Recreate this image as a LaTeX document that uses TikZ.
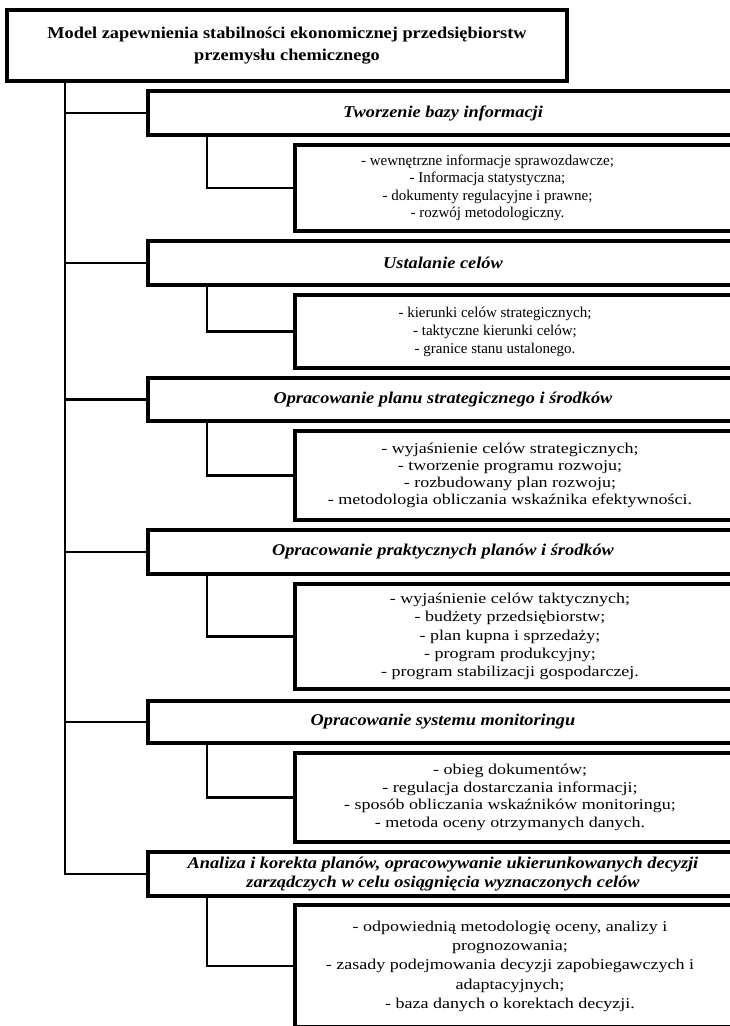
\documentclass[tikz,border=0pt]{standalone}
\usepackage{fontspec}
\setmainfont{Liberation Serif}
\newfontfamily\widefont[FakeStretch=1.2]{Liberation Serif}
\newfontfamily\headfont[FakeStretch=1.11]{Liberation Serif}
\usetikzlibrary{positioning}

% centred lines, pushed left by half of #1
\newcommand{\itemlist}[2][0pt]{\begin{tabular}{@{}c@{}}#2\end{tabular}\hspace*{#1}}

\tikzset{
  box/.style={draw, line width=3.1pt, inner sep=0pt, outer sep=0pt},
  titlebox/.style={box, align=center, font=\headfont\fontsize{16.5}{22}\selectfont\bfseries, minimum width=560pt, minimum height=71pt},
  headbox/.style={box, align=center, font=\headfont\fontsize{16.5}{19.5}\selectfont\bfseries\itshape, minimum width=590pt, minimum height=44pt},
  listbox/.style={box, font=\fontsize{15}{17.5}\selectfont, minimum width=445pt},
  widebox/.style={listbox, font=\widefont\fontsize{15}{#1}\selectfont},
  link/.style={line width=2.9pt}
}

\begin{document}
\begin{tikzpicture}[x=1pt,y=-1pt]
\useasboundingbox (0,0) rectangle (730,1026);
\clip (0,0) rectangle (730,1026);

\node[titlebox, anchor=north west] (title) at (7,10)
  {Model zapewnienia stabilności ekonomicznej przedsiębiorstw\\ przemysłu chemicznego};

\node[headbox, anchor=north west] (h1) at (148,91) {Tworzenie bazy informacji};
\node[listbox, minimum height=86pt, below=10pt of h1.south west, anchor=north west, xshift=147pt] (s1)
  {\itemlist[60pt]{- wewnętrzne informacje sprawozdawcze;\\ - Informacja statystyczna;\\ - dokumenty regulacyjne i prawne;\\ - rozwój metodologiczny.}};

\node[headbox, below=10pt of s1.south west, anchor=north west, xshift=-147pt] (h2) {Ustalanie celów};
\node[listbox, minimum height=73pt, font=\fontsize{15}{18}\selectfont, below=10pt of h2.south west, anchor=north west, xshift=147pt] (s2)
  {\itemlist[45pt]{- kierunki celów strategicznych;\\ - taktyczne kierunki celów;\\ - granice stanu ustalonego.}};

\node[headbox, minimum height=43pt, below=10pt of s2.south west, anchor=north west, xshift=-147pt] (h3)
  {Opracowanie planu strategicznego i środków};
\node[widebox=16.8, minimum height=89pt, below=10pt of h3.south west, anchor=north west, xshift=147pt] (s3)
  {\itemlist[15pt]{- wyjaśnienie celów strategicznych;\\ - tworzenie programu rozwoju;\\ - rozbudowany plan rozwoju;\\ - metodologia obliczania wskaźnika efektywności.}};

\node[headbox, below=10pt of s3.south west, anchor=north west, xshift=-147pt] (h4)
  {Opracowanie praktycznych planów i środków};
\node[widebox=18.3, minimum height=105pt, below=10pt of h4.south west, anchor=north west, xshift=147pt] (s4)
  {\itemlist[15pt]{- wyjaśnienie celów taktycznych;\\ - budżety przedsiębiorstw;\\ - plan kupna i sprzedaży;\\ - program produkcyjny;\\ - program stabilizacji gospodarczej.}};

\node[headbox, minimum height=42pt, below=12pt of s4.south west, anchor=north west, xshift=-147pt] (h5)
  {Opracowanie systemu monitoringu};
\node[widebox=17.7, minimum height=89pt, below=10pt of h5.south west, anchor=north west, xshift=147pt] (s5)
  {\itemlist[15pt]{- obieg dokumentów;\\ - regulacja dostarczania informacji;\\ - sposób obliczania wskaźników monitoringu;\\ - metoda oceny otrzymanych danych.}};

\node[headbox, below=10pt of s5.south west, anchor=north west, xshift=-147pt] (h6)
  {Analiza i korekta planów, opracowywanie ukierunkowanych decyzji\\ zarządczych w celu osiągnięcia wyznaczonych celów};
\node[widebox=19.3, minimum height=122pt, below=9pt of h6.south west, anchor=north west, xshift=147pt] (s6)
  {\itemlist[15pt]{- odpowiednią metodologię oceny, analizy i\\ prognozowania;\\ - zasady podejmowania decyzji zapobiegawczych i\\ adaptacyjnych;\\ - baza danych o korektach decyzji.}};

% main trunk and branches
\coordinate (trunk) at (65,0);
\coordinate (stem) at (207,0);
\draw[link] (title.south -| trunk) |- (h6.west);
\foreach \h in {h1,h2,h3,h4,h5}
  \draw[link] (trunk |- \h.west) -- (\h.west);
\foreach \h/\s in {h1/s1,h2/s2,h3/s3,h4/s4,h5/s5,h6/s6}
  \draw[link] (\h.south -| stem) |- (\s.west);
\end{tikzpicture}
\end{document}
